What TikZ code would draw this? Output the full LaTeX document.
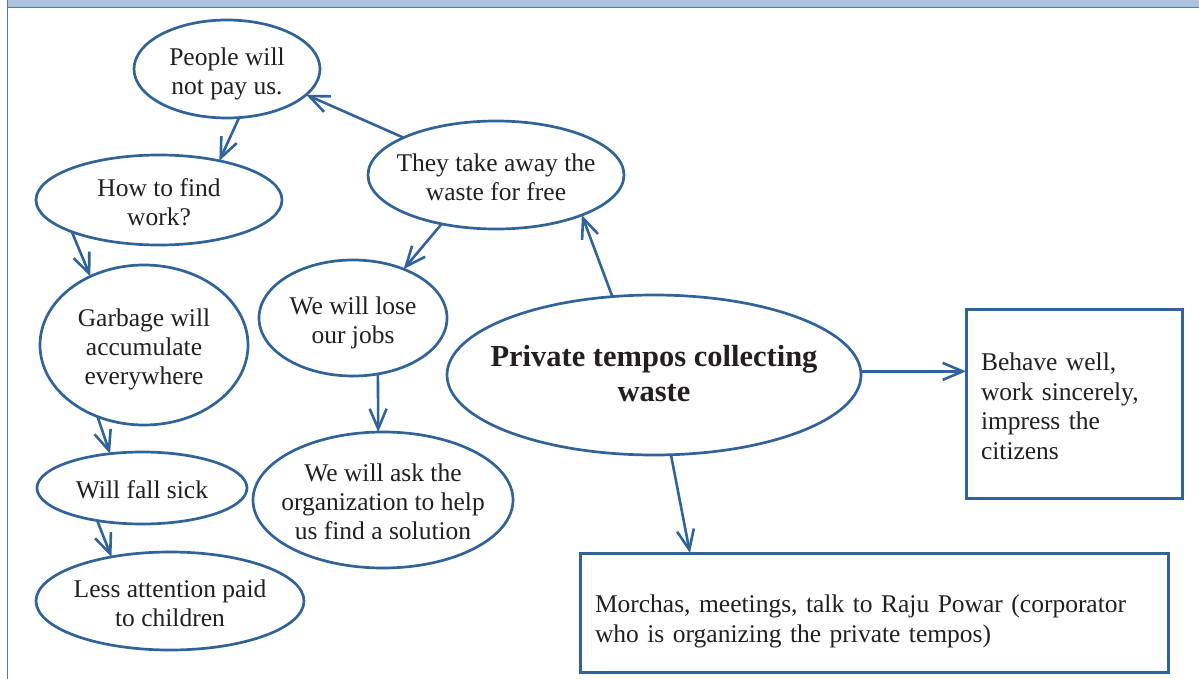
\documentclass[tikz,border=0pt]{standalone}
\usepackage{fontspec}
\setmainfont{Liberation Serif}
\usetikzlibrary{shapes.geometric,arrows.meta,calc}
\definecolor{lineblue}{RGB}{49,99,153}
\definecolor{bandblue}{RGB}{173,195,219}
\definecolor{frameblue}{RGB}{80,125,175}
\definecolor{txt}{RGB}{35,31,32}
\newcommand{\ctxt}[2][-11.4pt]{\makebox[0pt][c]{\raisebox{#1}[0pt][0pt]{\begin{tabular}{@{}c@{}}#2\end{tabular}}}}
\begin{document}
\begin{tikzpicture}[x=1pt,y=-1pt,
  bubble/.style={ellipse, draw=lineblue, line width=2.7pt, inner sep=0pt, outer sep=0pt,
    text=txt, font=\fontsize{25.5}{29}\selectfont},
  bigbubble/.style={bubble, font=\fontsize{30.5}{35}\selectfont\bfseries},
  textbox/.style={rectangle, draw=lineblue, line width=3pt, inner sep=0pt, outer sep=0pt,
    text=txt, align=left, font=\fontsize{25.5}{29.5}\selectfont},
  conn/.style={draw=lineblue, line width=2.6pt, -{Straight Barb[length=20pt,width=17pt]}}
]
\useasboundingbox (0,0) rectangle (1199,679);
% frame
\fill[bandblue] (7,0) rectangle (1199,7);
\draw[frameblue, line width=1.4pt] (7,7.5) -- (1199,7.5);
\draw[frameblue, line width=1.4pt] (7.5,0) -- (7.5,679);

% nodes
\node[bubble, minimum width=186pt, minimum height=98pt] (people) at (227,69) {\ctxt{People will\\not pay us.}};
\node[bubble, minimum width=246pt, minimum height=90pt] (how) at (159,200) {\ctxt{How to find\\work?}};
\node[bubble, minimum width=208pt, minimum height=160pt] (garbage) at (144,345) {\ctxt{Garbage will\\accumulate\\everywhere}};
\node[bubble, minimum width=210pt, minimum height=72pt] (sick) at (142,488) {\ctxt{Will fall sick}};
\node[bubble, minimum width=268pt, minimum height=98pt] (less) at (170,601) {\ctxt{Less attention paid\\to children}};
\node[bubble, minimum width=256pt, minimum height=108pt] (they) at (496,175) {\ctxt{They take away the\\waste for free}};
\node[bubble, minimum width=188pt, minimum height=116pt] (lose) at (353,318) {\ctxt{We will lose\\our jobs}};
\node[bubble, minimum width=260pt, minimum height=136pt] (ask) at (383,500) {\ctxt{We will ask the\\organization to help\\us find a solution}};
\node[bigbubble, minimum width=414pt, minimum height=160pt] (private) at (654,375) {\ctxt[-8.5pt]{Private tempos collecting\\waste}};
\node[textbox, minimum width=216pt, minimum height=189pt, text width=186pt] (behave) at (1074,403.5)
  {\rule{0pt}{23.5pt}Behave well,\\work sincerely,\\impress the\\citizens};
\node[textbox, minimum width=588pt, minimum height=119pt, text width=558pt] (morchas) at (874,612.5)
  {\rule{0pt}{35pt}Morchas, meetings, talk to Raju Powar (corporator\\who is organizing the private tempos)};

% connectors
\draw[conn] (they.158) -- (people.342);
\draw[conn] (people.284) -- (how.33);
\draw[conn] (how.200) -- (garbage.128);
\draw[conn] (garbage.237) -- (sick.133);
\draw[conn] (sick.216) -- (less.143);
\draw[conn] (they.222) -- (lose.44);
\draw[conn] (lose.294) -- (ask.94);
\draw[conn] (private.118) -- (they.335);
\draw[conn] (private.1) -- (private.1 -| behave.west);
\draw[conn] (private.282) -- ($(morchas.north west)!0.187!(morchas.north east)$);
\end{tikzpicture}
\end{document}
